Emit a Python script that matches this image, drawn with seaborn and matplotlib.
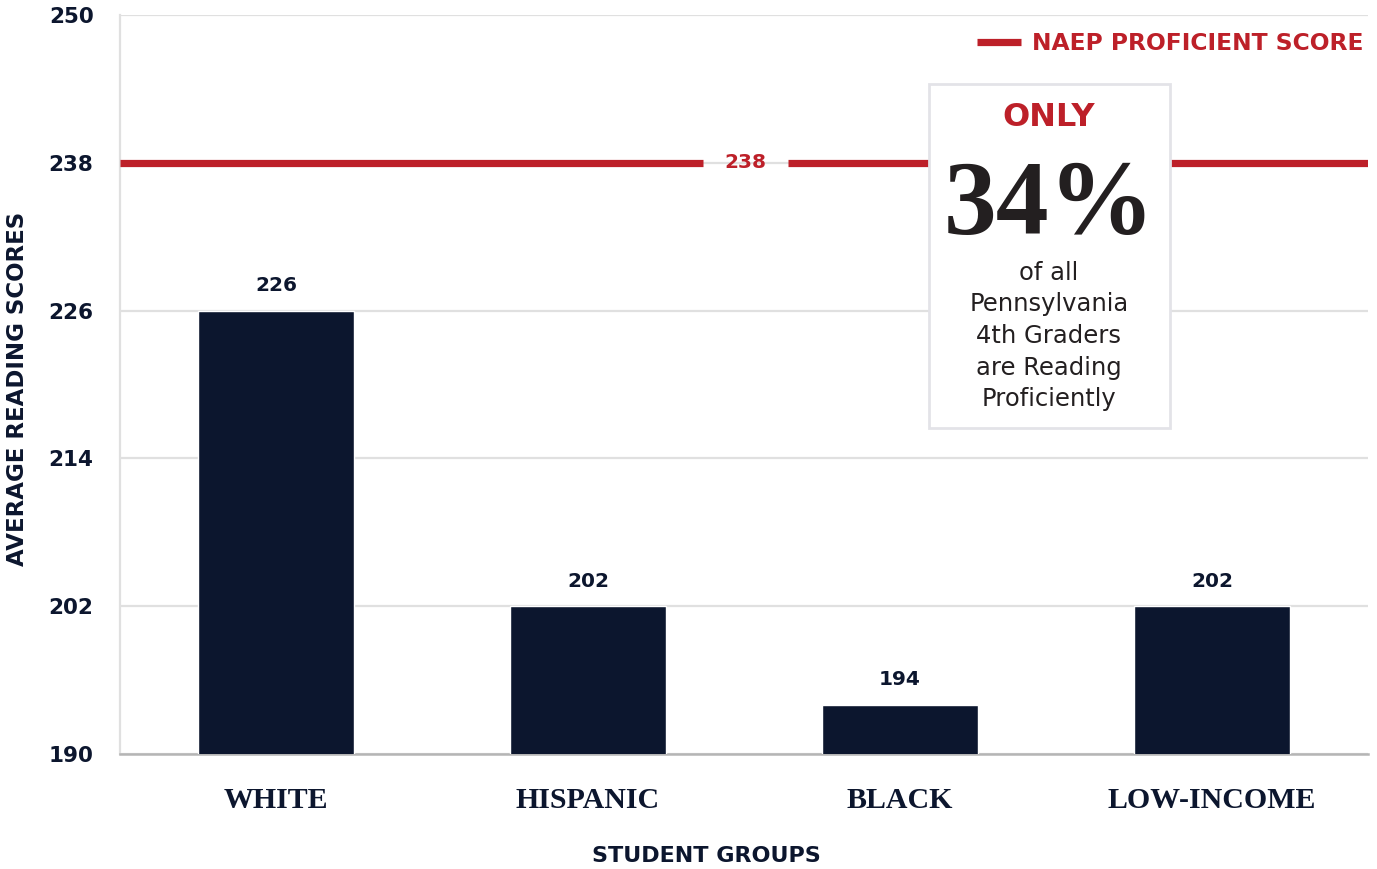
import matplotlib
matplotlib.use("Agg")
import matplotlib.pyplot as plt
import seaborn as sns
import pandas as pd
from matplotlib.patches import Rectangle
from matplotlib.lines import Line2D

# ---- data ----
groups = ["WHITE", "HISPANIC", "BLACK", "LOW-INCOME"]
scores = [226, 202, 194, 202]
proficient_score = 238
yticks = [190, 202, 214, 226, 238, 250]
callout_pct = "34%"
callout_lines = ["of all", "Pennsylvania", "4th Graders", "are Reading", "Proficiently"]

NAVY = "#0c162e"
RED = "#bd2029"
GRID = "#e0e0e0"

sns.set_theme(style="white")
plt.rcParams["font.family"] = ["DejaVu Sans"]
SERIF = ["Liberation Serif", "DejaVu Serif"]

W, H = 1377, 869
fig = plt.figure(figsize=(W / 100, H / 100), dpi=100)
ax = fig.add_axes([120 / W, 1 - 754 / H, (1368 - 120) / W, (754 - 15) / H])

df = pd.DataFrame({"group": groups, "score": scores})
sns.barplot(data=df, x="group", y="score", color=NAVY, width=0.5, saturation=1, ax=ax, zorder=3)

ax.set_xlim(-0.5, 3.5)
ax.set_ylim(yticks[0], yticks[-1])
ax.set_yticks(yticks)
ax.yaxis.grid(True, color=GRID, linewidth=1.6, zorder=0)
ax.set_axisbelow(True)
for s in ["top", "right"]:
    ax.spines[s].set_visible(False)
ax.spines["left"].set_color(GRID)
ax.spines["left"].set_linewidth(1.6)
ax.spines["bottom"].set_color("#b5b5b5")
ax.spines["bottom"].set_linewidth(1.8)
ax.tick_params(axis="both", length=0)
ax.tick_params(axis="y", pad=19, labelsize=15.5, labelcolor=NAVY)
for t in ax.get_yticklabels():
    t.set_fontweight("bold")
ax.tick_params(axis="x", pad=24)
ax.set_xticks(range(len(groups)))
ax.set_xticklabels(groups, family=SERIF, fontweight="bold", fontsize=21.5, color=NAVY)
ax.set_xlabel("")
ax.set_ylabel("")

# bar value labels
ax.bar_label(ax.containers[0], labels=[str(v) for v in scores], padding=11,
             fontsize=14.5, fontweight="bold", color=NAVY)

# proficient line (broken around its label)
ax.hlines(proficient_score, -0.5, 1.37, color=RED, linewidth=5.2, zorder=4)
ax.hlines(proficient_score, 1.64, 3.5, color=RED, linewidth=5.2, zorder=4)
ax.text(1.505, proficient_score, str(proficient_score), ha="center", va="center",
        fontsize=14.5, fontweight="bold", color=RED, zorder=5)

# legend
leg = fig.legend(handles=[Line2D([0], [0], color=RED, linewidth=5.2, solid_capstyle="butt")],
                 labels=["NAEP PROFICIENT SCORE"], loc="center right",
                 bbox_to_anchor=(1364 / W, 1 - 44 / H), frameon=False,
                 handlelength=1.9, handletextpad=0.5, borderpad=0, borderaxespad=0,
                 prop={"weight": "bold", "size": 16.8})
for t in leg.get_texts():
    t.set_color(RED)

# callout box
bx0, bx1 = (929 - 120) / 1248, (1170 - 120) / 1248
by0, by1 = 1 - (428 - 15) / 739, 1 - (84 - 15) / 739
ax.add_patch(Rectangle((bx0, by0), bx1 - bx0, by1 - by0, transform=ax.transAxes,
                       facecolor="white", edgecolor="#e3e3e8", linewidth=2, zorder=6))
cx = 1049 / W
fig.text(cx, 1 - 118 / H, "ONLY", ha="center", va="center", fontsize=23,
         fontweight="bold", color=RED, zorder=7)
fig.text(cx, 1 - 234 / H, callout_pct, ha="center", va="baseline", fontsize=76,
         fontweight="bold", family=SERIF, color="#231f20", zorder=7)
for i, line in enumerate(callout_lines):
    fig.text(cx, 1 - (273 + 31.5 * i) / H, line, ha="center", va="center",
             fontsize=17.5, color="#231f20", zorder=7)

# axis titles
fig.text(18 / W, 1 - 389 / H, "AVERAGE READING SCORES", rotation=90, ha="center",
         va="center", fontsize=16.5, fontweight="bold", color=NAVY)
fig.text(706 / W, 1 - 856 / H, "STUDENT GROUPS", ha="center", va="center",
         fontsize=16, fontweight="bold", color=NAVY)

fig.savefig("out.png", dpi=100, facecolor="white")
